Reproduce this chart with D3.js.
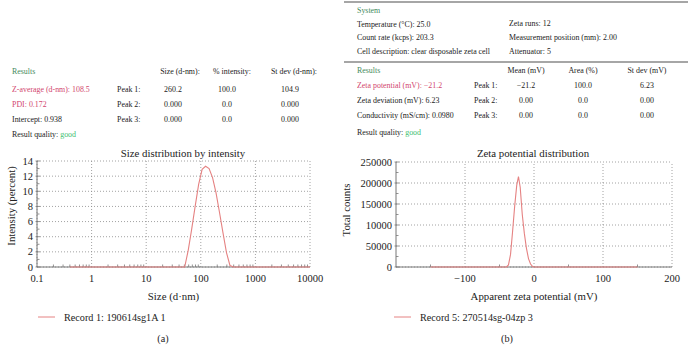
<!DOCTYPE html>
<html><head><meta charset="utf-8">
<script src="https://cdn.jsdelivr.net/npm/d3@7"></script>
<style>
body{margin:0;background:#fff;}
svg{display:block;font-family:"Liberation Serif","DejaVu Serif",serif;}
</style></head>
<body><svg id="c" width="688" height="360"></svg>
<script>
// ---- Data ----
const sizeNm = [0.4, 43.8, 50.7, 58.8, 68.1, 78.8, 91.3, 105.7, 122.4, 141.8, 164.2, 190.1, 220.2, 255.0, 295.3, 342.0, 396.1, 10000];
const intensityPct = [0, 0, 0, 2.2, 5.0, 8.0, 10.9, 12.9, 13.3, 13.0, 11.8, 9.8, 7.2, 4.5, 1.9, 0.2, 0, 0];
const sizeXTicks = [0.1, 1, 10, 100, 1000, 10000];
const sizeXTickLabels = ["0.1", "1", "10", "100", "1000", "10000"];
const sizeYTicks = [0, 2, 4, 6, 8, 10, 12, 14];

const zetaMv = [-150, -40, -37, -34, -31, -28, -25, -22.5, -20, -17, -14, -11, -8, -5, -2, 0, 150];
const totalCounts = [0, 0, 5000, 30000, 85000, 145000, 195000, 215000, 190000, 125000, 80000, 45000, 20000, 7000, 1000, 0, 0];
const zetaXTicks = [-100, 0, 100, 200];
const zetaXTickLabels = ["\u2212100", "0", "100", "200"];
const zetaYTicks = [0, 50000, 100000, 150000, 200000, 250000];
const zetaYTickLabels = ["0", "50000", "10000", "150000", "200000", "250000"];

const sizeRows = [
  ["Peak 1:", "260.2", "100.0", "104.9"],
  ["Peak 2:", "0.000", "0.0", "0.000"],
  ["Peak 3:", "0.000", "0.0", "0.000"]
];
const zetaRows = [
  ["Peak 1:", "\u221221.2", "100.0", "6.23"],
  ["Peak 2:", "0.00", "0.0", "0.00"],
  ["Peak 3:", "0.00", "0.0", "0.00"]
];

// ---- Styles ----
const RED = "#e58282", PINK = "#d2466e", GREEN = "#3f8a5c", GOOD = "#3cc070";
const GRID = "#8a8a8a", AXIS = "#777";
const svg = d3.select("#c");

function txt(x, y, s, opt = {}) {
  const t = svg.append("text").attr("x", x).attr("y", y).text(s)
    .attr("font-size", opt.size || 7.9).attr("fill", opt.fill || "#222")
    .attr("text-anchor", opt.anchor || "start");
  return t;
}

// ---- Left table ----
txt(12, 74, "Results", {fill: GREEN});
txt(180, 74, "Size (d-nm):", {anchor: "middle"});
txt(232, 74, "% intensity:", {anchor: "middle"});
txt(294, 74, "St dev (d-nm):", {anchor: "middle"});
txt(12, 92, "Z-average (d-nm): 108.5", {fill: PINK});
txt(12, 107, "PDI: 0.172", {fill: PINK});
txt(12, 122, "Intercept: 0.938");
const q1 = txt(12, 137, "Result quality: ");
q1.append("tspan").attr("fill", GOOD).text("good");
sizeRows.forEach((r, i) => {
  const y = 92 + i * 15;
  txt(117, y, r[0]);
  txt(173, y, r[1], {anchor: "middle"});
  txt(227, y, r[2], {anchor: "middle"});
  txt(290, y, r[3], {anchor: "middle"});
});

// ---- Right table ----
svg.append("line").attr("x1", 344).attr("x2", 688).attr("y1", 2).attr("y2", 2).attr("stroke", "#888").attr("stroke-width", 1.5);
svg.append("line").attr("x1", 344).attr("x2", 688).attr("y1", 62).attr("y2", 62).attr("stroke", "#888").attr("stroke-width", 1.5);
txt(357, 13, "System", {fill: GREEN});
txt(357, 27, "Temperature (\u00b0C): 25.0");
txt(357, 40, "Count rate (kcps): 203.3");
txt(357, 54, "Cell description: clear disposable zeta cell");
txt(509, 26, "Zeta runs: 12");
txt(509, 40, "Measurement position (mm): 2.00");
txt(509, 54, "Attenuator: 5");
txt(357, 73, "Results", {fill: GREEN});
txt(526, 73, "Mean (mV)", {anchor: "middle"});
txt(583, 73, "Area (%)", {anchor: "middle"});
txt(647, 73, "St dev (mV)", {anchor: "middle"});
txt(357, 88, "Zeta potential (mV): \u221221.2", {fill: PINK});
txt(357, 103, "Zeta deviation (mV): 6.23");
txt(357, 118, "Conductivity (mS/cm): 0.0980");
const q2 = txt(357, 135, "Result quality: ");
q2.append("tspan").attr("fill", GOOD).text("good");
zetaRows.forEach((r, i) => {
  const y = 88 + i * 15;
  txt(474, y, r[0]);
  txt(526, y, r[1], {anchor: "middle"});
  txt(583, y, r[2], {anchor: "middle"});
  txt(647, y, r[3], {anchor: "middle"});
});

// ---- Chart helper ----
function chart(cfg) {
  const {x, y, xTicks, xLabels, xMinor, yTicks, yLabels, yMinor} = cfg;
  const g = svg.append("g");
  const [x0, x1] = x.range(), [y0, y1] = y.range();
  // grid
  xTicks.forEach(v => g.append("line").attr("x1", x(v)).attr("x2", x(v)).attr("y1", y0).attr("y2", y1)
    .attr("stroke", GRID).attr("stroke-width", 0.8).attr("stroke-dasharray", "1,2"));
  yTicks.forEach(v => g.append("line").attr("x1", x0).attr("x2", x1).attr("y1", y(v)).attr("y2", y(v))
    .attr("stroke", GRID).attr("stroke-width", 0.8).attr("stroke-dasharray", "1,2"));
  // axes
  g.append("line").attr("x1", x0).attr("x2", x1).attr("y1", y0).attr("y2", y0).attr("stroke", AXIS).attr("stroke-width", 1);
  g.append("line").attr("x1", x0).attr("x2", x0).attr("y1", y0).attr("y2", y1).attr("stroke", AXIS).attr("stroke-width", 1);
  // minor ticks
  xMinor.forEach(v => g.append("line").attr("x1", x(v)).attr("x2", x(v)).attr("y1", y0).attr("y2", y0 - 2.5).attr("stroke", AXIS).attr("stroke-width", 0.8));
  yMinor.forEach(v => g.append("line").attr("x1", x0).attr("x2", x0 + 2.5).attr("y1", y(v)).attr("y2", y(v)).attr("stroke", AXIS).attr("stroke-width", 0.8));
  yTicks.forEach(v => g.append("line").attr("x1", x0 - 1.5).attr("x2", x0 + 3).attr("y1", y(v)).attr("y2", y(v)).attr("stroke", AXIS).attr("stroke-width", 0.8));
  // labels
  xTicks.forEach((v, i) => g.append("text").attr("x", x(v)).attr("y", y0 + 15).attr("text-anchor", "middle")
    .attr("font-size", 10.5).attr("fill", "#222").text(xLabels[i]));
  yTicks.forEach((v, i) => g.append("text").attr("x", x0 - 4).attr("y", y(v) + 3.6).attr("text-anchor", "end")
    .attr("font-size", 10.5).attr("fill", "#222").text(yLabels[i]));
  // line
  g.append("path").datum(cfg.xs.map((d, i) => [d, cfg.ys[i]]))
    .attr("d", d3.line().x(d => x(d[0])).y(d => y(d[1])))
    .attr("fill", "none").attr("stroke", RED).attr("stroke-width", 1.1);
  // titles
  g.append("text").attr("x", cfg.titleX).attr("y", 157).attr("text-anchor", "middle").attr("font-size", 10.8).attr("fill", "#222").text(cfg.title);
  g.append("text").attr("x", (x0 + x1) / 2).attr("y", 300).attr("text-anchor", "middle").attr("font-size", 10.8).attr("fill", "#222").text(cfg.xTitle);
  g.append("text").attr("transform", `translate(${cfg.yTitleX},${cfg.yTitleY}) rotate(-90)`).attr("text-anchor", "middle")
    .attr("font-size", 10.8).attr("fill", "#222").text(cfg.yTitle);
  // legend
  g.append("line").attr("x1", cfg.legX).attr("x2", cfg.legX + 17).attr("y1", 317).attr("y2", 317).attr("stroke", RED).attr("stroke-width", 1);
  g.append("text").attr("x", cfg.legX + 26).attr("y", 321).attr("font-size", 10.2).attr("fill", "#222").text(cfg.legend);
  g.append("text").attr("x", cfg.capX).attr("y", 342).attr("text-anchor", "middle").attr("font-size", 10.2).attr("fill", "#222").text(cfg.caption);
}

// ---- Left chart ----
const xs1 = d3.scaleLog().domain([0.1, 10000]).range([37, 310]);
const ys1 = d3.scaleLinear().domain([0, 14]).range([267, 161]);
const minorLog = [];
[0.1, 1, 10, 100, 1000].forEach(d => { for (let k = 2; k <= 9; k++) minorLog.push(d * k); });
chart({
  x: xs1, y: ys1, xTicks: sizeXTicks, xLabels: sizeXTickLabels, xMinor: minorLog,
  yTicks: sizeYTicks, yLabels: sizeYTicks.map(String), yMinor: d3.range(1, 14, 2),
  xs: sizeNm, ys: intensityPct,
  title: "Size distribution by intensity", titleX: 183,
  xTitle: "Size (d\u00b7nm)", yTitle: "Intensity (percent)", yTitleX: 15, yTitleY: 206,
  legX: 38, legend: "Record 1: 190614sg1A 1", capX: 163, caption: "(a)"
});

// ---- Right chart ----
const xs2 = d3.scaleLinear().domain([-200, 200]).range([396, 672]);
const ys2 = d3.scaleLinear().domain([0, 250000]).range([267, 162]);
chart({
  x: xs2, y: ys2, xTicks: zetaXTicks, xLabels: zetaXTickLabels, xMinor: [-150, -50, 50, 150],
  yTicks: zetaYTicks, yLabels: zetaYTickLabels, yMinor: [25000, 75000, 125000, 175000, 225000],
  xs: zetaMv, ys: totalCounts,
  title: "Zeta potential distribution", titleX: 533,
  xTitle: "Apparent zeta potential (mV)", yTitle: "Total counts", yTitleX: 350, yTitleY: 210,
  legX: 394, legend: "Record 5: 270514sg-04zp 3", capX: 507, caption: "(b)"
});
</script></body></html>
